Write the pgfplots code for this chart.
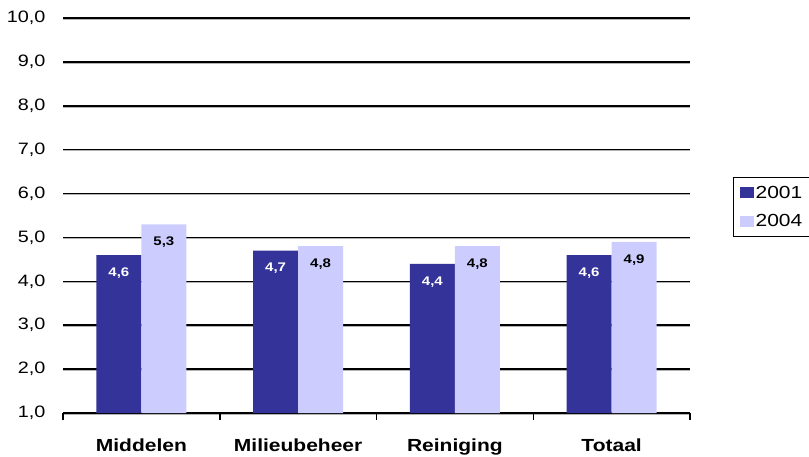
\documentclass[border=0pt]{standalone}
\usepackage{pgfplots}
\pgfplotsset{compat=1.18}
\usepackage{fontspec}
\setmainfont{Liberation Sans}[FakeStretch=1.2]
\definecolor{dk}{HTML}{333399}
\definecolor{lt}{HTML}{CCCCFF}
\pgfkeys{/pgf/number format/assume math mode=true}
\begin{document}
\begin{tikzpicture}
\useasboundingbox (-63bp,-44bp) rectangle (746bp,413bp);
\begin{axis}[
  at={(0,0)}, anchor=south west,
  scale only axis, width=627bp, height=395bp,
  xmin=-0.5, xmax=3.5, ymin=1, ymax=10,
  ytick={1,2,3,4,5,6,7,8,9,10},
  yticklabel style={font=\fontsize{16.5bp}{19bp}\selectfont, xshift=-7bp,
    /pgf/number format/.cd, use comma, fixed, fixed zerofill, precision=1},
  xtick={-0.5,0.5,1.5,2.5,3.5},
  x tick label as interval,
  xticklabels={Middelen,Milieubeheer,Reiniging,Totaal},
  xticklabel style={font=\fontsize{17.5bp}{20bp}\selectfont\bfseries, yshift=-15bp},
  axis lines*=left,
  y axis line style={draw=none},
  x axis line style={black, line width=1.5bp},
  ytick style={draw=none},
  xtick style={black, line width=1.5bp},
  major tick length=7bp,
  tick align=outside,
  ymajorgrids,
  major grid style={black, line width=1.5bp,
    preaction={draw=gray!60, line width=1.2bp, transform canvas={yshift=-1.2bp}}},
  ybar=0pt, bar width=45bp,
  nodes near coords={\pgfmathprintnumber[fixed,fixed zerofill,precision=1,use comma]{\pgfplotspointmeta}},
  every node near coord/.append style={font=\fontsize{12.5bp}{14bp}\selectfont\bfseries, anchor=center, yshift=-18bp},
  legend style={at={(1.0686,0.597)}, anchor=north west, draw=black, line width=1.2bp,
    font=\fontsize{17.5bp}{20bp}\selectfont, row sep=11bp, inner xsep=6bp, inner ysep=6bp},
  legend cell align=left,
  legend image code/.code={\fill[#1] (0bp,-5.5bp) rectangle (14bp,5.5bp);},
]
\addplot[fill=dk, draw=none, every node near coord/.append style={text=white}]
  coordinates {(0,4.6) (1,4.7) (2,4.4) (3,4.6)};
\addplot[fill=lt, draw=none, every node near coord/.append style={text=black}]
  coordinates {(0,5.3) (1,4.8) (2,4.8) (3,4.9)};
\legend{2001,2004}
\end{axis}
\end{tikzpicture}
\end{document}
